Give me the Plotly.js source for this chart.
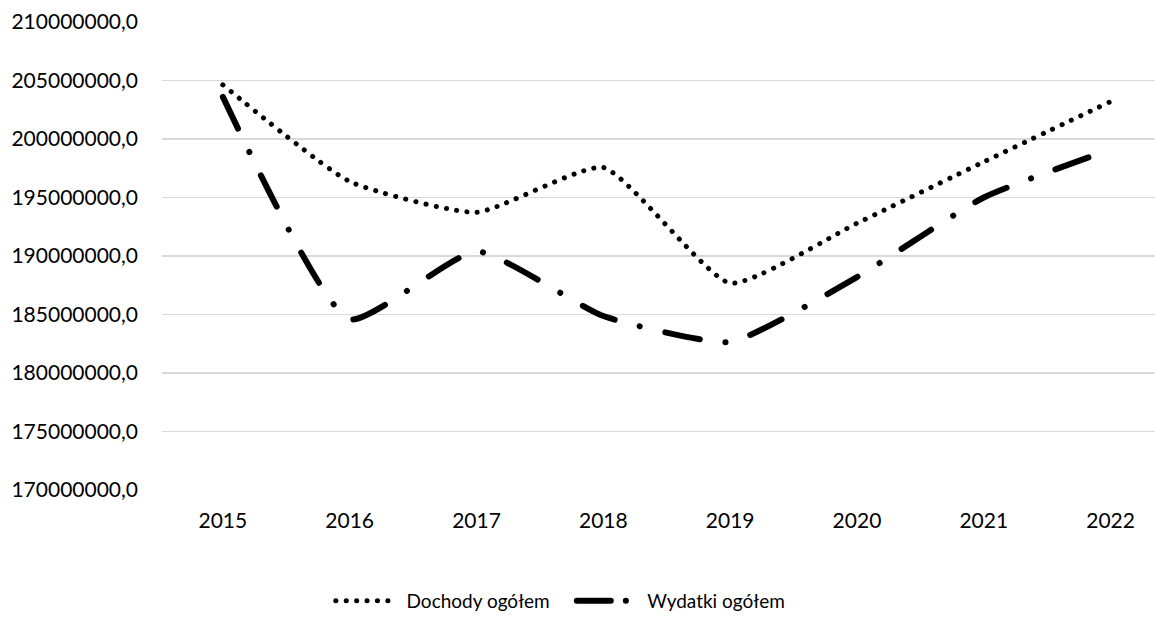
<!DOCTYPE html>
<html>
<head>
<meta charset="utf-8">
<script src="https://cdn.plot.ly/plotly-3.0.1.min.js"></script>
<style>
  html, body { margin: 0; padding: 0; background: #fff; }
  #chart { width: 1155px; height: 620px; }
  .js-line { stroke-linecap: round; }
  .legendlines path { stroke-linecap: round; }
</style>
</head>
<body>
<div id="chart"></div>
<script>
const years = ['2015', '2016', '2017', '2018', '2019', '2020', '2021', '2022'];
const dochody = [204630000, 196370000, 193730000, 197560000, 187680000, 192800000, 198050000, 203200000];
const wydatki = [203600000, 184600000, 190400000, 184870000, 182660000, 188200000, 195000000, 199100000];
const seriesNames = ['Dochody ogółem', 'Wydatki ogółem'];
const yTicks = [170000000, 175000000, 180000000, 185000000, 190000000, 195000000, 200000000, 205000000, 210000000];

const fontFamily = 'Lato, "Open Sans", sans-serif';

const traces = [
  {
    x: years, y: dochody, name: '\u00a0\u00a0' + seriesNames[0], type: 'scatter', mode: 'lines',
    line: { color: '#000000', width: 5, dash: '0.1px,10.3px', shape: 'spline', smoothing: 0.5 }
  },
  {
    x: years, y: wydatki, name: '\u00a0\u00a0' + seriesNames[1], type: 'scatter', mode: 'lines',
    line: { color: '#000000', width: 6, dash: '35px,26px,0.1px,26px', shape: 'spline', smoothing: 0.5 }
  }
];

const layout = {
  width: 1155, height: 620,
  paper_bgcolor: '#ffffff', plot_bgcolor: '#ffffff',
  separators: ', ',
  margin: { l: 162, r: 0, t: 22, b: 128, pad: 0 },
  font: { family: fontFamily, size: 20, color: '#000000' },
  showlegend: true,
  legend: {
    orientation: 'h', x: 0.170, xanchor: 'left', y: -0.237, yanchor: 'middle',
    font: { family: fontFamily, size: 19, color: '#000000' },
    itemwidth: 56, entrywidth: 170, entrywidthmode: 'pixels',
    tracegroupgap: 0, bgcolor: 'rgba(0,0,0,0)'
  },
  xaxis: {
    type: 'category', range: [-0.48, 7.35],
    showgrid: false, zeroline: false, showline: false, ticks: '',
    ticklabelstandoff: 16,
    tickfont: { family: fontFamily, size: 21, color: '#000000' }
  },
  yaxis: {
    range: [170000000, 210000000], tickvals: yTicks, tickformat: '.1f',
    showgrid: true, gridcolor: '#d9d9d9', gridwidth: 1.5,
    zeroline: false, showline: false, ticks: '',
    ticklabelstandoff: 23,
    tickfont: { family: fontFamily, size: 21, color: '#000000' }
  }
};

Plotly.newPlot('chart', traces, layout, { displayModeBar: false, staticPlot: true }).then(function (gd) {
  const legendTraces = gd.querySelectorAll('.legend .traces');
  if (legendTraces.length > 1) {
    legendTraces[1].querySelectorAll('.legendlines path').forEach(function (p) {
      p.style.strokeDasharray = '34px, 15px, 0.1px, 200px';
    });
  }
});
</script>
</body>
</html>
